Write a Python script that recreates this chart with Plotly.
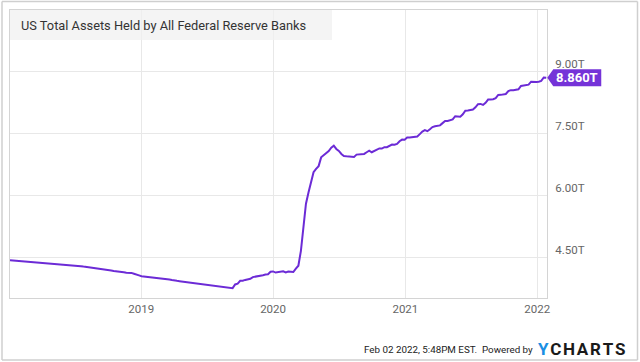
import pandas as pd
import plotly.graph_objects as go

# Weekly (Wednesday) values, trillions USD
v2018 = [4.445, 4.440, 4.438, 4.432, 4.430,
         4.428, 4.418, 4.412, 4.405,
         4.404, 4.395, 4.395, 4.390,
         4.392, 4.379, 4.376, 4.372,
         4.368, 4.355, 4.355, 4.348, 4.345,
         4.346, 4.335, 4.330, 4.318,
         4.317, 4.305, 4.300, 4.290,
         4.283, 4.268, 4.260, 4.253, 4.248,
         4.247, 4.237, 4.226, 4.218,
         4.209, 4.196, 4.185, 4.172, 4.163,
         4.162, 4.152, 4.141, 4.140,
         4.138, 4.118, 4.105, 4.078]
v2019 = [4.058, 4.052, 4.045, 4.040, 4.033,
         4.030, 4.020, 4.005, 3.995,
         3.993, 3.985, 3.977, 3.964,
         3.962, 3.945, 3.938, 3.930,
         3.928, 3.922, 3.912, 3.905, 3.893,
         3.888, 3.880, 3.870, 3.860,
         3.855, 3.845, 3.838, 3.830, 3.818,
         3.812, 3.800, 3.790, 3.781,
         3.778, 3.769, 3.858, 3.877,
         3.945, 3.947, 3.968, 3.974, 3.995,
         4.036, 4.046, 4.045, 4.062,
         4.081, 4.100, 4.103, 4.165]
v2020 = [4.173, 4.146, 4.150, 4.159, 4.176,
         4.150, 4.171, 4.166, 4.159,
         4.241, 4.312, 4.672, 5.254,
         5.813, 6.083, 6.368, 6.573, 6.656,
         6.721, 6.934, 6.979, 7.037,
         7.087, 7.168, 7.215, 7.137,
         7.089, 7.016, 6.968, 6.960, 6.958,
         6.953, 6.945, 7.000, 7.008,
         7.017, 7.017, 7.057, 7.094, 7.057,
         7.090, 7.125, 7.150, 7.146,
         7.181, 7.180, 7.215, 7.245,
         7.238, 7.261, 7.323, 7.364, 7.360]
v2021 = [7.414, 7.416, 7.424, 7.431,
         7.437, 7.496, 7.558, 7.592,
         7.567, 7.615, 7.667, 7.686, 7.691,
         7.708, 7.762, 7.812, 7.812,
         7.827, 7.851, 7.930, 7.917,
         7.918, 7.976, 8.064, 8.068, 8.072,
         8.091, 8.145, 8.221, 8.227,
         8.202, 8.255, 8.332, 8.334,
         8.340, 8.366, 8.445, 8.446, 8.453,
         8.467, 8.540, 8.560, 8.556,
         8.563, 8.580, 8.663, 8.677,
         8.679, 8.694, 8.765, 8.757, 8.757]
v2022 = [8.766, 8.785, 8.867, 8.860]

values = v2018 + v2019 + v2020 + v2021 + v2022
dates = pd.date_range("2018-01-03", periods=len(values), freq="W-WED")

y_ticks = [4.5, 6.0, 7.5, 9.0]
y_tick_labels = ["4.50T", "6.00T", "7.50T", "9.00T"]
x_ticks = ["2019-01-01", "2020-01-01", "2021-01-01", "2022-01-01"]
x_tick_labels = ["2019", "2020", "2021", "2022"]

title_text = "US Total Assets Held by All Federal Reserve Banks"
last_label = "8.860T"

LINE = "#6c2bd6"
BOX = "#7533d8"
GRID = "#e8e8e8"
FONT = "Roboto"

# plot geometry (pixels)
PW, PH = 537, 288
x0 = dates[0]
x1 = dates[-1] + pd.Timedelta(days=2)
Y0, Y1 = 3.53, 10.5

fig = go.Figure()
fig.add_trace(go.Scatter(x=dates, y=values, mode="lines",
                         line=dict(color=LINE, width=2), hoverinfo="skip"))

fig.update_layout(
    width=640, height=362,
    margin=dict(l=10, r=93, t=10, b=64),
    paper_bgcolor="white", plot_bgcolor="white",
    showlegend=False,
    font=dict(family=FONT, size=11, color="#666666"),
)
fig.update_xaxes(
    range=[x0, x1],
    tickvals=x_ticks, ticktext=x_tick_labels,
    showgrid=True, gridcolor=GRID, gridwidth=1,
    showline=True, linecolor="#d4d4d4", linewidth=1, mirror=True,
    ticks="", zeroline=False, automargin=False,
    tickfont=dict(family=FONT, size=11.5, color="#666666"),
)
fig.update_yaxes(
    range=[Y0, Y1],
    tickvals=y_ticks, ticktext=y_tick_labels,
    side="right", ticklabelposition="outside top",
    showgrid=True, gridcolor=GRID, gridwidth=1,
    showline=True, linecolor="#d4d4d4", linewidth=1, mirror=True,
    ticks="", zeroline=False, ticklabelstandoff=5, automargin=False,
    tickfont=dict(family=FONT, size=11.5, color="#666666"),
)

# title box
fig.add_shape(type="rect", xref="paper", yref="paper",
              x0=0, x1=322 / PW, y0=1 - 30 / PH, y1=1,
              fillcolor="rgba(240,240,240,0.75)", line=dict(width=0), layer="above")
fig.add_annotation(xref="paper", yref="paper", x=9 / PW, y=1 - 15 / PH,
                   xanchor="left", yanchor="middle", showarrow=False,
                   text=title_text, font=dict(family=FONT, size=12.8, color="#333333"))

# outer frame as four separate lines
fl, fr, fb, ft = -8 / PW, 627.5 / PW, -62 / PH, 1 + 8.5 / PH
for (ax, ay, bx, by) in [(fl, fb, fr, fb), (fr, fb, fr, ft), (fr, ft, fl, ft), (fl, ft, fl, fb)]:
    fig.add_shape(type="line", xref="paper", yref="paper",
                  x0=ax, y0=ay, x1=bx, y1=by,
                  line=dict(color="#cfcfcf", width=1.5), layer="above")

# last value flag (arrow-shaped box pointing at the last point), paper coords
lx, ly = dates[-1], values[-1]
px_last = (lx - x0) / (x1 - x0)
py_last = (ly - Y0) / (Y1 - Y0)
pts = [(1, 0), (7, 8.5), (55, 8.5), (55, -8.5), (7, -8.5)]
path = " ".join(
    ("M" if i == 0 else "L")
    + f"{px_last + dx / PW:.5f},{py_last + dy / PH:.5f}"
    for i, (dx, dy) in enumerate(pts)) + " Z"
fig.add_shape(type="path", xref="paper", yref="paper", path=path,
              fillcolor=BOX, line=dict(width=0), layer="above")
fig.add_annotation(x=lx, y=ly, xref="x", yref="y",
                   xanchor="center", yanchor="middle", xshift=31, yshift=0,
                   showarrow=False, text="<b>" + last_label + "</b>",
                   font=dict(family=FONT, size=13, color="white"))

# footer
fig.add_annotation(xref="paper", yref="paper", x=525 / PW, y=-51 / PH,
                   xanchor="right", yanchor="middle", showarrow=False,
                   text="Feb 02 2022, 5:48PM EST.  Powered by",
                   font=dict(family=FONT, size=9.8, color="#222222"))
fig.add_annotation(xref="paper", yref="paper", x=526 / PW, y=-51 / PH,
                   xanchor="left", yanchor="middle", showarrow=False,
                   text="<span style='color:#1a8fe3'><b>Y</b></span><b>\u200aC\u200aH\u200aA\u200aR\u200aT\u200aS</b>",
                   font=dict(family=FONT, size=17, color="#1a1a1a"))

post = (
    "document.body.style.margin='0';document.body.style.overflow='hidden';"
)
fig.write_html("out.html", config={"displayModeBar": False}, post_script=post)
